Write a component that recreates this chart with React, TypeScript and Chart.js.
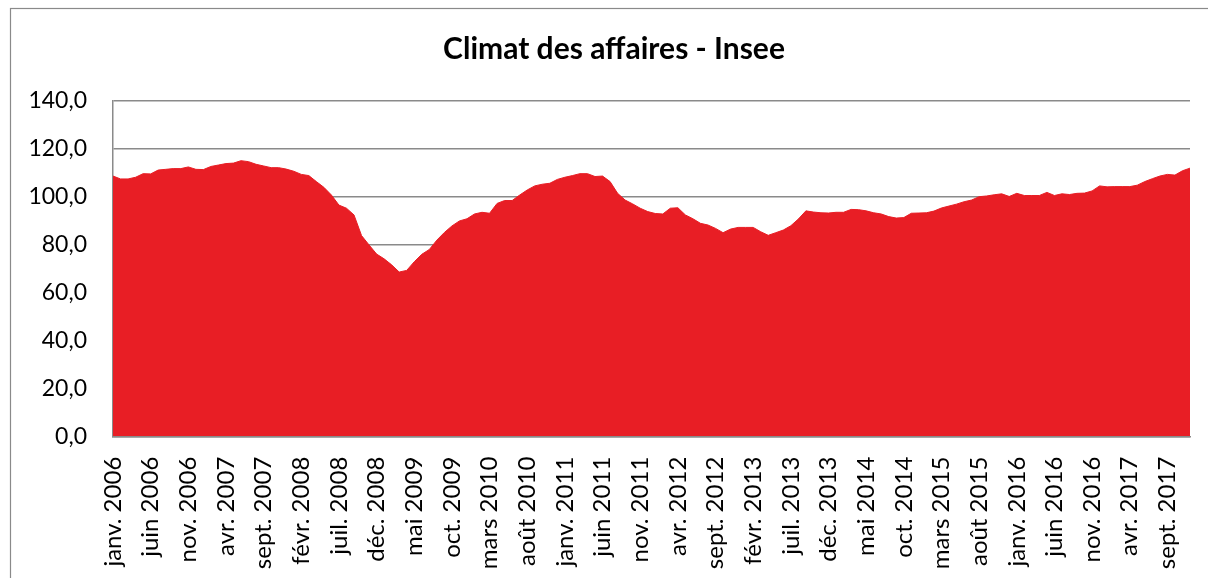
import React, { useEffect, useRef } from 'react';
import { Chart, registerables } from 'chart.js';

Chart.register(...registerables);

const chartTitle = 'Climat des affaires - Insee';
const monthNames = ['janv.', 'févr.', 'mars', 'avr.', 'mai', 'juin', 'juil.', 'août', 'sept.', 'oct.', 'nov.', 'déc.'];
const years = [2006, 2007, 2008, 2009, 2010, 2011, 2012, 2013, 2014, 2015, 2016, 2017];

const v2006 = [108.6, 107.4, 107.4, 108.1, 109.6, 109.5, 111.1, 111.4, 111.7, 111.7, 112.4, 111.4];
const v2007 = [111.3, 112.6, 113.2, 113.8, 114.0, 115.0, 114.6, 113.5, 112.8, 112.1, 112.1, 111.5];
const v2008 = [110.6, 109.3, 108.8, 106.3, 103.9, 100.7, 96.5, 95.2, 92.4, 83.8, 79.9, 76.1];
const v2009 = [74.1, 71.6, 68.6, 69.3, 72.9, 76.0, 78.0, 81.9, 85.1, 87.8, 89.9, 90.8];
const v2010 = [92.8, 93.5, 93.1, 97.2, 98.4, 98.4, 100.7, 102.8, 104.5, 105.2, 105.6, 107.2];
const v2011 = [108.1, 108.8, 109.6, 109.6, 108.4, 108.6, 106.3, 101.4, 98.6, 97.0, 95.2, 93.8];
const v2012 = [93.0, 92.8, 95.2, 95.4, 92.4, 90.8, 88.9, 88.2, 86.8, 85.0, 86.5, 87.2];
const v2013 = [87.2, 87.2, 85.4, 83.9, 85.0, 86.1, 87.9, 90.7, 94.1, 93.6, 93.3, 93.2];
const v2014 = [93.5, 93.5, 94.7, 94.6, 94.1, 93.3, 92.8, 91.7, 91.1, 91.3, 93.1, 93.2];
const v2015 = [93.3, 94.0, 95.3, 96.1, 96.9, 97.9, 98.6, 100.0, 100.3, 100.8, 101.2, 100.1];
const v2016 = [101.4, 100.5, 100.5, 100.5, 101.8, 100.5, 101.2, 100.9, 101.4, 101.5, 102.4, 104.5];
const v2017 = [104.1, 104.2, 104.2, 104.2, 104.8, 106.3, 107.5, 108.6, 109.3, 109.0, 110.8, 111.9];

const yMin = 0;
const yMax = 140;
const yStep = 20;
const labelStep = 5;

const values = [...v2006, ...v2007, ...v2008, ...v2009, ...v2010, ...v2011, ...v2012, ...v2013, ...v2014, ...v2015, ...v2016, ...v2017];
const labels = years.flatMap((y) => monthNames.map((m) => `${m} ${y}`));

const FONT = 'Lato, "Noto Sans", sans-serif';
const GRID = '#8a8a8a';

const frame = {
  id: 'frame',
  beforeDraw(chart: any) {
    const ctx = chart.ctx;
    ctx.save();
    ctx.fillStyle = '#ffffff';
    ctx.fillRect(0, 0, chart.width, chart.height);
    ctx.strokeStyle = '#8a8a8a';
    ctx.lineWidth = 1.2;
    ctx.strokeRect(10.5, 8.5, chart.width + 20, chart.height + 20);
    ctx.restore();
  },
};

export default function App() {
  const ref = useRef<HTMLCanvasElement>(null);
  useEffect(() => {
    if (!ref.current) return;
    const chart = new Chart(ref.current, {
      type: 'line',
      data: {
        labels,
        datasets: [
          {
            data: values,
            fill: 'origin',
            backgroundColor: '#E81E25',
            borderColor: '#E81E25',
            borderWidth: 1,
            pointRadius: 0,
            tension: 0,
            yAxisID: 'y',
          },
        ],
      },
      plugins: [frame],
      options: {
        responsive: false,
        animation: false,
        layout: { padding: { left: 20, right: 0, top: 0, bottom: 0 } },
        plugins: {
          legend: { display: false },
          tooltip: { enabled: false },
          title: {
            display: true,
            text: chartTitle,
            color: '#000',
            font: { family: FONT, size: 30, weight: 'bold', lineHeight: 1.2 },
            padding: { top: 31, bottom: 33.7 },
          },
        },
        scales: {
          x: {
            type: 'category',
            offset: false,
            grid: { display: false, drawTicks: false },
            border: { display: true, color: GRID, width: 1.5, z: 1 },
            ticks: {
              autoSkip: false,
              maxRotation: 90,
              minRotation: 90,
              padding: 20,
              color: '#000',
              font: { family: FONT, size: 24 },
              callback: (_v: any, i: number) => (i % labelStep === 0 ? labels[i] : ''),
            },
            afterFit: (s: any) => {
              s.height = 141.3;
              s.paddingLeft = 0;
              s.paddingRight = 0;
            },
          },
          y: {
            position: 'left',
            min: yMin,
            max: yMax,
            grid: { color: GRID, lineWidth: 1.5, drawTicks: false },
            border: { display: true, color: GRID, width: 1.5 },
            ticks: {
              stepSize: yStep,
              padding: 26,
              color: '#000',
              font: { family: FONT, size: 23 },
              callback: (v: any) => Number(v).toFixed(1).replace('.', ','),
            },
            afterFit: (s: any) => {
              s.width = 93;
              s.paddingTop = 0;
              s.paddingBottom = 0;
            },
          },
          yRight: {
            type: 'linear',
            position: 'right',
            display: true,
            min: yMin,
            max: yMax,
            grid: { display: false, drawTicks: false },
            border: { display: false },
            ticks: { display: false },
            afterFit: (s: any) => {
              s.width = 18;
              s.paddingTop = 0;
              s.paddingBottom = 0;
            },
          },
        },
      },
    });
    return () => chart.destroy();
  }, []);
  return (
    <div style={{ position: 'absolute', left: 0, top: 0, width: 1208, height: 578 }}>
      <canvas ref={ref} width={1208} height={578} style={{ display: 'block' }} />
    </div>
  );
}
